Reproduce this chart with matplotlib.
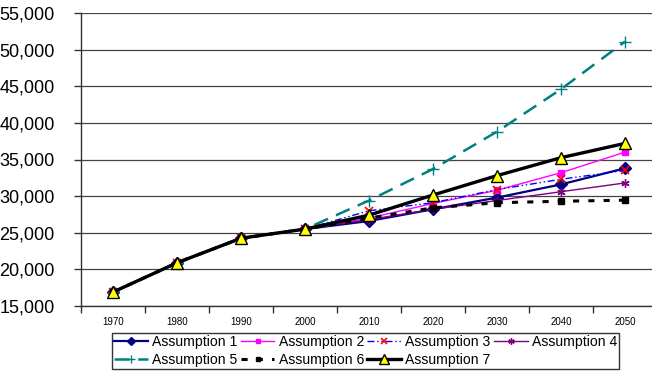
import matplotlib.pyplot as plt
import matplotlib as mpl
from matplotlib.ticker import FixedLocator, StrMethodFormatter

years = ["1970", "1980", "1990", "2000", "2010", "2020", "2030", "2040", "2050"]
history = [16900, 20900, 24250, 25500]

a1 = history + [26600, 28200, 29800, 31600, 33800]
a2 = history + [27000, 29000, 30800, 33200, 36000]
a3 = history + [28000, 29100, 30900, 32300, 33500]
a4 = history + [26800, 28200, 29400, 30600, 31800]
a5 = history + [29400, 33700, 38800, 44600, 51100]
a6 = history + [27000, 28400, 29100, 29300, 29450]
a7 = history + [27400, 30150, 32800, 35250, 37200]

labels = ["Assumption 1", "Assumption 2", "Assumption 3", "Assumption 4",
          "Assumption 5", "Assumption 6", "Assumption 7"]

mpl.rcParams["font.family"] = ["Liberation Sans", "DejaVu Sans"]

fig = plt.figure(figsize=(6.52, 3.71), dpi=100)
ax = fig.add_axes([81 / 652, 65 / 371, 576 / 652, 293 / 371])
x = list(range(len(years)))

styles = [
    dict(color="#000080", lw=1.6, marker="D", ms=6, mfc="#000080", mec="#000080"),
    dict(color="#FF00FF", lw=1.0, marker="s", ms=4.5, mfc="#FF00FF", mec="#FF00FF"),
    dict(color="#0000FF", lw=1.0, ls=(0, (5, 2, 1, 2, 1, 2)), marker="x", ms=5.5,
         mfc="#FF0000", mec="#FF0000", mew=1.2),
    dict(color="#800080", lw=1.0, marker=(6, 2, 0), ms=6, mec="#800080", mew=1.0),
    dict(color="#008080", lw=1.8, ls=(0, (6, 3.5)), marker="+", ms=8, mec="#008080", mew=1.0),
    dict(color="#000000", lw=2.2, ls=(0, (2, 3)), marker="s", ms=4.5, mfc="#000000", mec="#000000"),
    dict(color="#000000", lw=2.4, marker="^", ms=9, mfc="#FFFF00", mec="#000000", mew=1.0),
]

lines = []
for vals, lab, st in zip([a1, a2, a3, a4, a5, a6, a7], labels, styles):
    lines += ax.plot(x, vals, label=lab, **st)

ax.set_xlim(-0.5, 8.5)
ax.set_ylim(15000, 55000)
ax.set_yticks(range(15000, 55001, 5000))
ax.yaxis.set_major_formatter(StrMethodFormatter("{x:,.0f}"))
ax.set_xticks(x)
ax.set_xticklabels(years, fontsize=7)
ax.xaxis.set_minor_locator(FixedLocator([i - 0.5 for i in range(len(years) + 1)]))
ax.tick_params(axis="x", which="major", length=0, pad=8)
ax.tick_params(axis="x", which="minor", length=5, width=1, direction="out", color="#333333")
ax.tick_params(axis="y", length=5, width=1, direction="out", labelsize=13, pad=14, color="#333333")

ax.grid(axis="y", color="#444444", lw=0.9)
ax.set_axisbelow(True)
for s in ["top", "right"]:
    ax.spines[s].set_visible(False)
for s in ["left", "bottom"]:
    ax.spines[s].set_color("#333333")
    ax.spines[s].set_linewidth(1.0)

# matplotlib fills legend columns first; reorder so rows read 1-4, 5-7
order = [0, 4, 1, 5, 2, 6, 3]
leg = fig.legend([lines[i] for i in order], [labels[i] for i in order],
                 loc="upper left", bbox_to_anchor=(112 / 652, 1 - 333 / 371), ncol=4,
                 fontsize=10.1, frameon=True, fancybox=False, edgecolor="black",
                 numpoints=1, markerscale=0.75, handlelength=2.4, handletextpad=0.3,
                 columnspacing=0.25, labelspacing=0.3, borderpad=0.15, borderaxespad=0)
leg.get_frame().set_linewidth(1.0)

fig.savefig("out.png", dpi=100)
